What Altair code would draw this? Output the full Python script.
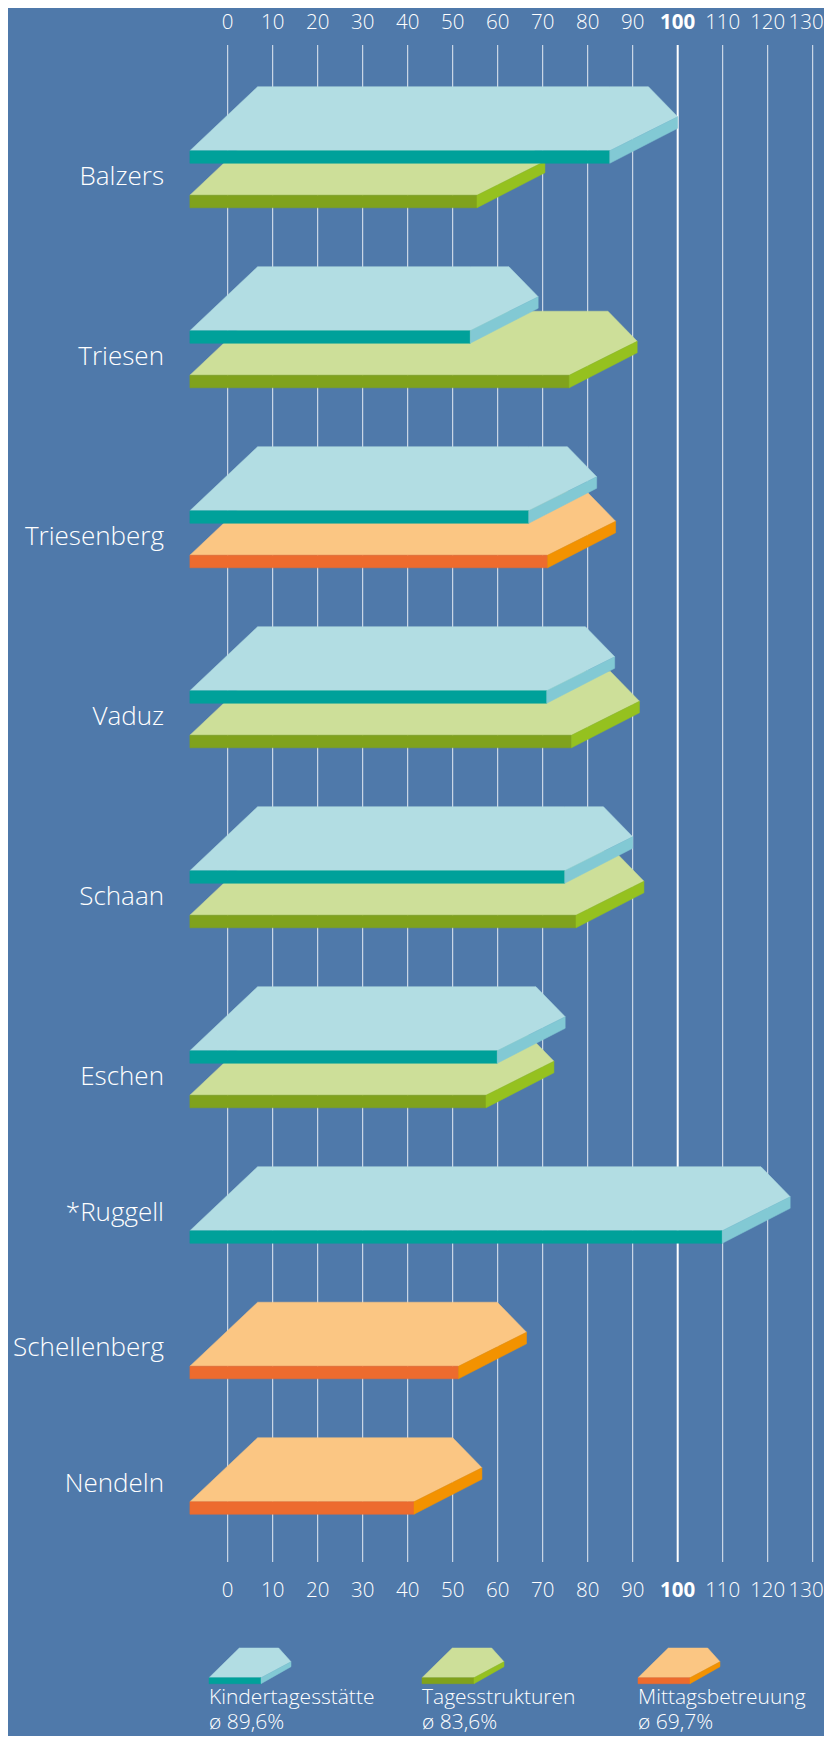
import altair as alt
import pandas as pd

# ---------------- data ----------------
categories = ["Balzers", "Triesen", "Triesenberg", "Vaduz", "Schaan",
              "Eschen", "*Ruggell", "Schellenberg", "Nendeln"]
kita = [100, 69, 82, 86, 90, 75, 125, None, None]
tages = [70.5, 91, None, 91.5, 92.5, 72.5, None, None, None]
mittag = [None, None, 86.2, None, None, None, None, 66.4, 56.5]
series_names = ["Kindertagesstätte", "Tagesstrukturen", "Mittagsbetreuung"]
series_avg = ["ø 89,6%", "ø 83,6%", "ø 69,7%"]
tick_values = [0, 10, 20, 30, 40, 50, 60, 70, 80, 90, 100, 110, 120, 130]

# ---------------- styles / layout ----------------
BG = "#4f79aa"
TOP = ["#b2dde3", "#cddf99", "#fbc683"]
FRONT = ["#00a19a", "#80a21c", "#ed6b2e"]
SIDE = ["#82c9d4", "#95c11f", "#f39200"]
FONT = "Open Sans"

PAGE = 8
W, H = 816, 1728
X0_PX, X130_PX = 227.7, 812.7          # page px of ticks 0 and 130
FIRST_FRONT_TOP = 150.7
STEP_IN_ROW = 44.5
STEP_NEW_ROW = 135.5

BAR_START = -8.4       # value units
DEPTH_SHIFT = 15.05
FRONT_CUT = 15.1
BACK_CUT = 6.5
DEPTH_PX = 64
RISE_PX = 34
FRONT_PX = 12.6
SIDE_PX = 11.6

xs = alt.Scale(domain=[0, 130], range=[X0_PX - PAGE, X130_PX - PAGE], nice=False, zero=False)
xs_px = alt.Scale(domain=[PAGE, PAGE + W], range=[0, W], nice=False, zero=False)
ys = alt.Scale(domain=[PAGE, PAGE + H], range=[0, H], nice=False, zero=False)


def faces(pid, xfl, xbl, xfr, xbr, xtip, ft, depth, rise, fthick, sthick, k):
    top_y = ft - depth
    tip_y = ft - rise
    yb_br = ft - rise * (xbr - xfr) / (xtip - xfr)
    out = []
    top = [(xfl, ft, ft), (xbl, top_y, ft), (xfr, top_y, ft), (xbr, top_y, yb_br), (xtip, tip_y, tip_y)]
    front = [(xfl, ft, ft + fthick), (xfr, ft, ft + fthick)]
    side = [(xfr, ft, ft + fthick), (xtip, tip_y, tip_y + sthick)]
    for name, pts, col in (("top", top, TOP[k]), ("front", front, FRONT[k]), ("side", side, SIDE[k])):
        for x, y, y2 in pts:
            out.append({"id": f"{pid}_{name}", "x": x, "y": y, "y2": y2, "c": col})
    return out


bars = []
labels = []
ft = FIRST_FRONT_TOP - STEP_NEW_ROW
for r, cat in enumerate(categories):
    vals = [kita[r], tages[r], mittag[r]]
    slot = 0
    for k, v in enumerate(vals):
        if v is None:
            continue
        ft += STEP_NEW_ROW if slot == 0 else STEP_IN_ROW
        rows = faces(f"{r}_{k}", BAR_START, BAR_START + DEPTH_SHIFT, v - FRONT_CUT, v - BACK_CUT, v,
                     ft, DEPTH_PX, RISE_PX, FRONT_PX, SIDE_PX, k)
        for d in rows:
            d["slot"] = slot
        bars.extend(rows)
        slot += 1
    labels.append({"cat": cat, "yb": ft - 10})

bars_df = pd.DataFrame(bars)
labels_df = pd.DataFrame(labels)

# legend shapes (page px)
LEG_X = [209, 422, 638]
leg = []
for k in range(3):
    fx = LEG_X[k]
    leg.extend(faces(f"leg{k}", fx, fx + 30.3, fx + 52, fx + 69.7, fx + 82,
                     1677.7, 29.7, 16, 6, 5, k))
leg_df = pd.DataFrame(leg)
leg_text_df = pd.DataFrame({"x": LEG_X, "name": series_names, "avg": series_avg})

ticks_df = pd.DataFrame({"t": tick_values})
ticks_mid = ticks_df[(ticks_df.t != 100) & (ticks_df.t != 130)]
ticks_100 = ticks_df[ticks_df.t == 100]
ticks_130 = ticks_df[ticks_df.t == 130]
ticks_grid = ticks_df[ticks_df.t != 100]

# ---------------- marks ----------------
grid = alt.Chart(ticks_grid).mark_rule(color="white", strokeWidth=1, opacity=0.85).encode(
    x=alt.X("t:Q", scale=xs, axis=None),
    y=alt.value(45 - PAGE), y2=alt.value(1562 - PAGE))
grid100 = alt.Chart(ticks_100).mark_rule(color="white", strokeWidth=2).encode(
    x=alt.X("t:Q", scale=xs, axis=None),
    y=alt.value(45 - PAGE), y2=alt.value(1562 - PAGE))


def area_layer(df, xscale):
    return alt.Chart(df).mark_area(orient="vertical", strokeWidth=0.5, interpolate="linear").encode(
        x=alt.X("x:Q", scale=xscale, axis=None),
        y=alt.Y("y:Q", scale=ys, axis=None),
        y2="y2:Q",
        color=alt.Color("c:N", scale=None, legend=None),
        stroke=alt.Stroke("c:N", scale=None, legend=None),
        detail="id:N",
    )


bars_lower = area_layer(bars_df[bars_df.slot == 1], xs)
bars_upper = area_layer(bars_df[bars_df.slot == 0], xs)

cat_text = alt.Chart(labels_df).mark_text(
    align="right", baseline="alphabetic", font=FONT, fontSize=26, fontWeight=300, color="white"
).encode(x=alt.value(164 - PAGE), y=alt.Y("yb:Q", scale=ys, axis=None), text="cat:N")


def tick_text(df, ypx, bold=False, align="center", dx=0):
    return alt.Chart(df).mark_text(
        align=align, baseline="alphabetic", font=FONT, fontSize=20.5, dx=dx,
        fontWeight="bold" if bold else 300, color="white"
    ).encode(x=alt.X("t:Q", scale=xs, axis=None), y=alt.value(ypx - PAGE), text="t:Q")


tick_layers = []
for ypx in (29.3, 1596.7):
    tick_layers.append(tick_text(ticks_mid, ypx))
    tick_layers.append(tick_text(ticks_100, ypx, bold=True))
    tick_layers.append(tick_text(ticks_130, ypx, align="right", dx=11))

leg_shapes = area_layer(leg_df, xs_px)
leg_name = alt.Chart(leg_text_df).mark_text(
    align="left", baseline="alphabetic", font=FONT, fontSize=21, fontWeight=300, color="white"
).encode(x=alt.X("x:Q", scale=xs_px, axis=None), y=alt.value(1704 - PAGE), text="name:N")
leg_avg = alt.Chart(leg_text_df).mark_text(
    align="left", baseline="alphabetic", font=FONT, fontSize=21, fontWeight=300, color="white"
).encode(x=alt.X("x:Q", scale=xs_px, axis=None), y=alt.value(1729 - PAGE), text="avg:N")

chart = alt.layer(
    grid, grid100, bars_lower, bars_upper, cat_text,
    *tick_layers,
    leg_shapes, leg_name, leg_avg,
).resolve_scale(x="independent").properties(
    width=W, height=H, padding=0, autosize="none", background=BG
).configure_view(stroke=None)

chart.save("out.html", embed_options={"renderer": "svg", "actions": False})
